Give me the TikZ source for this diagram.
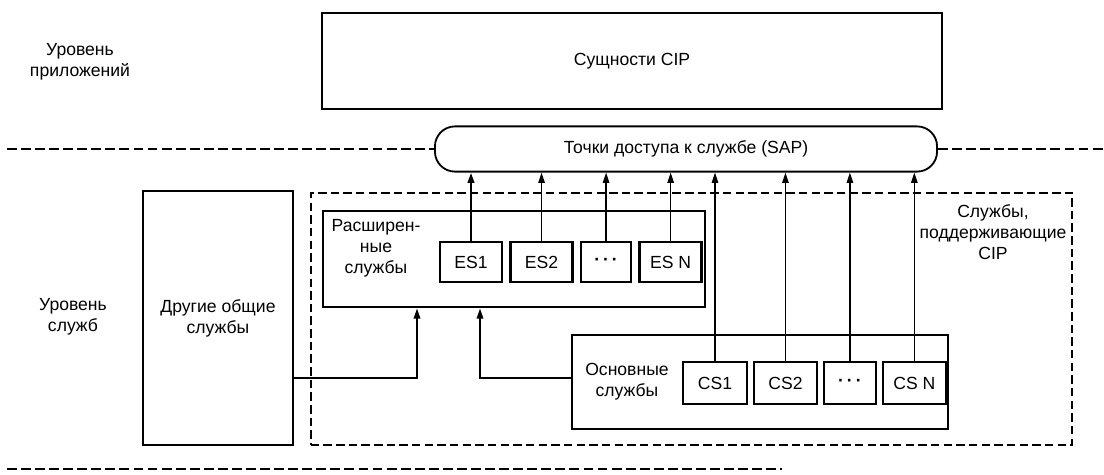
\documentclass[tikz,border=0pt]{standalone}
\usepackage{fontspec}
\setmainfont{Liberation Sans}
\usetikzlibrary{positioning,arrows.meta}

\begin{document}
\begin{tikzpicture}[
      x=0.025cm, y=-0.025cm,
      font=\fontsize{12.5}{15}\selectfont,
      box/.style={draw, line width=1.3pt, align=center, inner sep=0pt},
      esbox/.style={draw, line width=1.8pt, minimum width=1.55cm, minimum height=1cm,
                    inner sep=0pt, node distance=0.15cm},
      csbox/.style={draw, line width=1.3pt, minimum width=1.58cm, minimum height=1.05cm,
                    inner sep=0pt, node distance=0.125cm},
      lvl/.style={align=center},
      sep/.style={line width=1.7pt, dash pattern=on 7pt off 3pt},
      arr/.style={-{Triangle[length=2.6mm,width=1.6mm]}, line width=1.1pt},
    ]
    \useasboundingbox (0,0) rectangle (1104,474);

    % ---------- application level ----------
    \node[lvl] (applvl) at (80,62) {Уровень\\приложений};
    \node[box, minimum width=15.48cm, minimum height=2.38cm] (cip) at (632,61) {Сущности CIP};
    \node[box, rounded corners=0.5cm, minimum width=12.55cm, minimum height=1.13cm] (sap)
      at (686,149) {Точки доступа к службе (SAP)};

    \coordinate (l1) at (7,149);
    \coordinate (r1) at (1104,149);
    \draw[sep] (l1) -- (sap.west);
    \draw[sep] (sap.east) -- (r1);

    % ---------- service level ----------
    \node[lvl] (svclvl) at (73,317) {Уровень\\служб};
    \node[box, minimum width=3.75cm, minimum height=6.35cm] (other) at (218,318) {Другие общие\\службы};
    \node[draw, line width=1.3pt, dash pattern=on 6pt off 3pt, minimum width=19.03cm,
          minimum height=6.3cm] (frame) at (691.5,319) {};
    \node[lvl] (framelbl) at (993,232) {Службы,\\поддерживающие\\CIP};

    % extended services
    \node[box, line width=1.8pt, minimum width=9.55cm, minimum height=2.4cm] (ext) at (514,259) {};
    \node[lvl] (extlbl) at (376,248) {Расширен-\\ные\\службы};
    \node[esbox] (es1) at (471,262) {ES1};
    \node[esbox, right=of es1] (es2) {ES2};
    \node[esbox, minimum width=1.25cm, right=of es2] (esd) {\textbf{·\,·\,·}};
    \node[esbox, right=of esd] (esn) {ES N};

    % core services
    \node[box, minimum width=9.38cm, minimum height=2.33cm] (core) at (760,382) {};
    \node[lvl] (corelbl) at (627,382) {Основные\\службы};
    \node[csbox, minimum width=1.6cm] (cs1) at (715,383) {CS1};
    \node[csbox, right=of cs1] (cs2) {CS2};
    \node[csbox, minimum width=1.3cm, right=of cs2] (csd) {\textbf{·\,·\,·}};
    \node[csbox, right=of csd] (csn) {CS N};

    % ---------- connectors ----------
    \draw[arr, line width=1.8pt] (es1.north) -- (es1.north |- sap.south);
    \foreach \s in {es2,esd,esn,cs1,cs2,csd,csn}
      \draw[arr] (\s.north) -- (\s.north |- sap.south);

    \coordinate (j1) at (417,378);
    \coordinate (j2) at (480,378);
    \draw[arr, line width=1.5pt] (other.east |- j1) -| (j1 |- ext.south);
    \draw[arr, line width=1.5pt] (core.west |- j2) -| (j2 |- ext.south);

    \coordinate (l2) at (7,469);
    \coordinate (r2) at (782,469);
    \draw[sep] (l2) -- (r2);
  \end{tikzpicture}
\end{document}
